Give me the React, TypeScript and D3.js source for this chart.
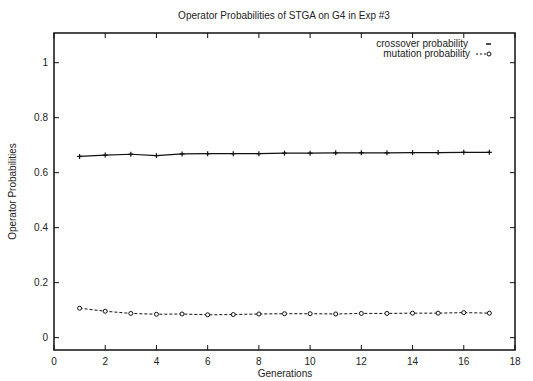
import React from "react";
import * as d3 from "d3";

const W = 533;
const H = 381;
const M = { left: 54, right: 18, top: 33, bottom: 31 };

const generations = [1, 2, 3, 4, 5, 6, 7, 8, 9, 10, 11, 12, 13, 14, 15, 16, 17];
const crossover = [0.659, 0.664, 0.667, 0.662, 0.668, 0.669, 0.669, 0.669, 0.671, 0.671, 0.672, 0.672, 0.672, 0.673, 0.673, 0.674, 0.674];
const mutation = [0.107, 0.096, 0.088, 0.085, 0.086, 0.083, 0.084, 0.086, 0.087, 0.087, 0.086, 0.088, 0.088, 0.089, 0.089, 0.091, 0.089];
const xTicks = [0, 2, 4, 6, 8, 10, 12, 14, 16, 18];
const yTicks = [0, 0.2, 0.4, 0.6, 0.8, 1];

const FONT = "Liberation Sans, Arial, sans-serif";

export default function App() {
  const x = d3.scaleLinear().domain([0, 18]).range([M.left, W - M.right]);
  const y = d3.scaleLinear().domain([-0.045, 1.108]).range([H - M.bottom, M.top]);

  const line = d3
    .line<number>()
    .x((_, i) => x(generations[i]))
    .y((d) => y(d));

  const x0 = M.left;
  const x1 = W - M.right;
  const y0 = H - M.bottom;
  const y1 = M.top;
  const tick = 5;

  return (
    <svg
      width={W}
      height={H}
      style={{ position: "fixed", top: 0, left: 0, background: "white" }}
      fontFamily={FONT}
    >
      <text x={284} y={19} fontSize={10} textAnchor="middle" fill="#222">
        Operator Probabilities of STGA on G4 in Exp #3
      </text>

      {/* frame */}
      <rect x={x0} y={y1} width={x1 - x0} height={y0 - y1} fill="none" stroke="#111" strokeWidth={1.5} />

      {/* x ticks */}
      {xTicks.map((t) => (
        <g key={"x" + t}>
          <line x1={x(t)} x2={x(t)} y1={y0} y2={y0 - tick} stroke="#111" />
          <line x1={x(t)} x2={x(t)} y1={y1} y2={y1 + tick} stroke="#111" />
          <text x={x(t)} y={y0 + 15} fontSize={10} textAnchor="middle" fill="#222">
            {t}
          </text>
        </g>
      ))}

      {/* y ticks */}
      {yTicks.map((t) => (
        <g key={"y" + t}>
          <line x1={x0} x2={x0 + tick} y1={y(t)} y2={y(t)} stroke="#111" />
          <line x1={x1} x2={x1 - tick} y1={y(t)} y2={y(t)} stroke="#111" />
          <text x={x0 - 6} y={y(t) + 3.5} fontSize={10} textAnchor="end" fill="#222">
            {t}
          </text>
        </g>
      ))}

      <text x={285} y={377} fontSize={10} textAnchor="middle" fill="#222">
        Generations
      </text>
      <text
        transform={`translate(16,${(y0 + y1) / 2}) rotate(-90)`}
        fontSize={10}
        textAnchor="middle"
        fill="#222"
      >
        Operator Probabilities
      </text>

      {/* crossover series */}
      <path d={line(crossover) ?? ""} fill="none" stroke="#111" strokeWidth={1.2} />
      {crossover.map((v, i) => (
        <g key={"c" + i}>
          <line x1={x(generations[i]) - 2.5} x2={x(generations[i]) + 2.5} y1={y(v)} y2={y(v)} stroke="#111" strokeWidth={1.2} />
          <line x1={x(generations[i])} x2={x(generations[i])} y1={y(v) - 2.5} y2={y(v) + 2.5} stroke="#111" strokeWidth={1.2} />
        </g>
      ))}

      {/* mutation series */}
      <path d={line(mutation) ?? ""} fill="none" stroke="#111" strokeWidth={1} strokeDasharray="3,2" />
      {mutation.map((v, i) => (
        <circle key={"m" + i} cx={x(generations[i])} cy={y(v)} r={2} fill="white" stroke="#111" strokeWidth={1} />
      ))}

      {/* legend */}
      <g fontSize={10} fill="#222">
        <text x={468} y={47} textAnchor="end">crossover probability</text>
        <line x1={486} x2={491} y1={44} y2={44} stroke="#111" strokeWidth={1.5} />
        <text x={470} y={57} textAnchor="end">mutation probability</text>
        <line x1={476} x2={487} y1={54} y2={54} stroke="#111" strokeWidth={1} strokeDasharray="2,2" />
        <circle cx={489} cy={54} r={2} fill="white" stroke="#111" />
      </g>
    </svg>
  );
}
